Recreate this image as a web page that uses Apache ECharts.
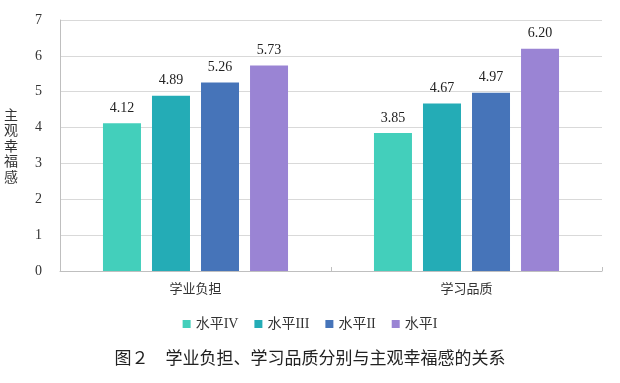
<!DOCTYPE html>
<html><head><meta charset="utf-8">
<script src="https://cdn.jsdelivr.net/npm/echarts@6/dist/echarts.min.js"></script>
<style>html,body{margin:0;padding:0;background:#fff}#c{width:620px;height:383px}</style>
</head><body><div id="c"></div>
<script>
const categories = ['学业负担', '学习品质'];
const seriesNames = ['水平IV', '水平III', '水平II', '水平I'];
const level4 = [4.12, 3.85];
const level3 = [4.89, 4.67];
const level2 = [5.26, 4.97];
const level1 = [5.73, 6.20];
const yTicks = [0, 1, 2, 3, 4, 5, 6, 7];
const colors = ['#43CFBB', '#24ACB6', '#4674B9', '#9A84D4'];
const seriesData = [level4, level3, level2, level1];

const chart = echarts.init(document.getElementById('c'), null, {renderer: 'canvas'});
const serif = '"Liberation Serif", "Times New Roman", serif';
const cjk = '"Noto Sans CJK SC", sans-serif';
chart.setOption({
  animation: false,
  backgroundColor: '#fff',
  grid: {left: 60, right: 18, top: 20, bottom: 112, containLabel: false},
  legend: {
    data: seriesNames, bottom: 47, left: 'center',
    itemWidth: 8, itemHeight: 8, itemGap: 16, icon: 'rect',
    textStyle: {fontFamily: '"Liberation Serif", "Noto Sans CJK SC", serif', fontSize: 14, color: '#333'}
  },
  title: {
    text: '图２　学业负担、学习品质分别与主观幸福感的关系',
    left: 'center', bottom: 12,
    textStyle: {fontFamily: cjk, fontSize: 17, fontWeight: 'normal', color: '#222'}
  },
  xAxis: {
    type: 'category', data: categories,
    axisLine: {lineStyle: {color: '#bfbfbf'}},
    axisTick: {show: true, inside: true, length: 4, lineStyle: {color: '#bfbfbf'}},
    axisLabel: {fontFamily: cjk, fontSize: 13, color: '#333', margin: 11}
  },
  yAxis: {
    type: 'value', min: yTicks[0], max: yTicks[yTicks.length - 1], interval: 1,
    name: '主\n观\n幸\n福\n感', nameLocation: 'middle', nameRotate: 0, nameGap: 42,
    nameTextStyle: {fontFamily: cjk, fontSize: 14, lineHeight: 15.5, color: '#333'},
    axisLine: {show: true, lineStyle: {color: '#bfbfbf'}},
    axisTick: {show: false},
    axisLabel: {fontFamily: serif, fontSize: 14, color: '#333', margin: 18},
    splitLine: {lineStyle: {color: '#d9d9d9'}}
  },
  series: seriesNames.map((n, i) => ({
    name: n, type: 'bar', data: seriesData[i],
    barWidth: 38, barGap: '29%', barCategoryGap: '31%',
    itemStyle: {color: colors[i]},
    label: {show: true, position: 'top', distance: 8,
      formatter: p => p.value.toFixed(2),
      fontFamily: serif, fontSize: 14, color: '#222'}
  }))
});
</script></body></html>
